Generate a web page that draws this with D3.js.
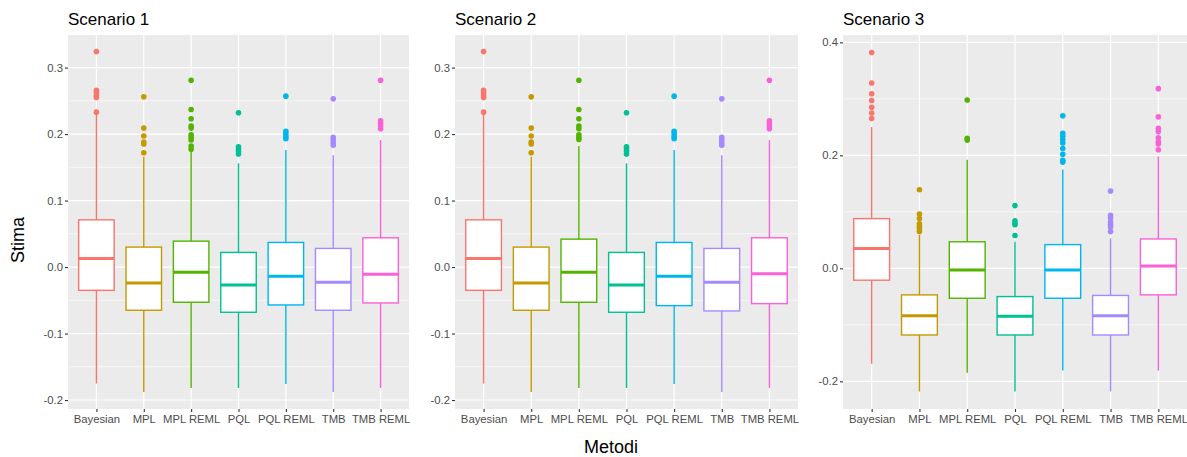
<!DOCTYPE html>
<html>
<head>
<meta charset="utf-8">
<script src="https://cdn.jsdelivr.net/npm/d3@7"></script>
<style>
  body { margin: 0; background: #fff; }
  svg { display: block; font-family: "Liberation Sans", Arial, sans-serif; }
</style>
</head>
<body>
<svg id="chart" width="1187" height="457"></svg>
<script>
// Methods compared and their colours (default ggplot hue palette)
const methods = ["Bayesian", "MPL", "MPL REML", "PQL", "PQL REML", "TMB", "TMB REML"];
const methodColors = ["#F8766D", "#C49A00", "#53B400", "#00C094", "#00B6EB", "#A58AFF", "#FB61D7"];
const scenarioTitles = ["Scenario 1", "Scenario 2", "Scenario 3"];

// Scenario 1 box statistics
const s1Lower  = [-0.175, -0.188, -0.182, -0.182, -0.176, -0.188, -0.182];
const s1Q1     = [-0.035, -0.065, -0.053, -0.068, -0.057, -0.065, -0.054];
const s1Median = [0.013, -0.024, -0.008, -0.027, -0.014, -0.023, -0.011];
const s1Q3     = [0.071, 0.030, 0.039, 0.022, 0.037, 0.028, 0.044];
const s1Upper  = [0.229, 0.166, 0.173, 0.156, 0.176, 0.168, 0.191];
const s1Outliers = [
  [0.324, 0.266, 0.262, 0.258, 0.255, 0.233],
  [0.256, 0.209, 0.197, 0.188, 0.185, 0.172],
  [0.281, 0.237, 0.223, 0.212, 0.209, 0.199, 0.195, 0.191, 0.182, 0.177],
  [0.232, 0.181, 0.178, 0.174, 0.170],
  [0.257, 0.204, 0.200, 0.196, 0.193],
  [0.253, 0.195, 0.191, 0.187, 0.183],
  [0.281, 0.220, 0.216, 0.212, 0.208]
];

// Scenario 2 box statistics
const s2Lower  = [-0.175, -0.188, -0.182, -0.182, -0.176, -0.188, -0.182];
const s2Q1     = [-0.035, -0.065, -0.053, -0.068, -0.058, -0.066, -0.055];
const s2Median = [0.013, -0.024, -0.008, -0.027, -0.014, -0.023, -0.010];
const s2Q3     = [0.071, 0.030, 0.042, 0.022, 0.037, 0.028, 0.044];
const s2Upper  = [0.229, 0.166, 0.182, 0.156, 0.176, 0.168, 0.191];
const s2Outliers = [
  [0.324, 0.266, 0.262, 0.258, 0.255, 0.233],
  [0.256, 0.209, 0.197, 0.188, 0.185, 0.172],
  [0.281, 0.237, 0.223, 0.212, 0.208, 0.199, 0.195, 0.192],
  [0.232, 0.181, 0.178, 0.174, 0.170],
  [0.257, 0.204, 0.200, 0.196, 0.193],
  [0.253, 0.195, 0.191, 0.187, 0.183],
  [0.281, 0.220, 0.216, 0.212, 0.208]
];

// Scenario 3 box statistics
const s3Lower  = [-0.169, -0.218, -0.185, -0.218, -0.181, -0.218, -0.181];
const s3Q1     = [-0.021, -0.118, -0.053, -0.118, -0.053, -0.118, -0.047];
const s3Median = [0.035, -0.084, -0.003, -0.085, -0.003, -0.084, 0.004];
const s3Q3     = [0.088, -0.047, 0.047, -0.050, 0.042, -0.048, 0.052];
const s3Upper  = [0.250, 0.059, 0.192, 0.047, 0.175, 0.053, 0.198];
const s3Outliers = [
  [0.382, 0.328, 0.309, 0.297, 0.285, 0.275, 0.265],
  [0.139, 0.096, 0.088, 0.079, 0.075, 0.071, 0.065],
  [0.298, 0.230, 0.227],
  [0.111, 0.084, 0.080, 0.077, 0.058],
  [0.270, 0.239, 0.234, 0.228, 0.222, 0.212, 0.202, 0.191, 0.188],
  [0.137, 0.094, 0.089, 0.082, 0.077, 0.073, 0.065],
  [0.318, 0.268, 0.248, 0.242, 0.231, 0.224, 0.220, 0.210]
];

// Axis ticks per panel
const ticksS12 = [-0.2, -0.1, 0.0, 0.1, 0.2, 0.3];
const minorS12 = [-0.15, -0.05, 0.05, 0.15, 0.25];
const ticksS3 = [-0.2, 0.0, 0.2, 0.4];
const minorS3 = [-0.1, 0.1, 0.3];

const panels = [
  { title: scenarioTitles[0], x0: 68, x1: 409, domain: [-0.2135, 0.349], ticks: ticksS12, minor: minorS12,
    lower: s1Lower, q1: s1Q1, med: s1Median, q3: s1Q3, upper: s1Upper, out: s1Outliers },
  { title: scenarioTitles[1], x0: 455, x1: 798, domain: [-0.2135, 0.349], ticks: ticksS12, minor: minorS12,
    lower: s2Lower, q1: s2Q1, med: s2Median, q3: s2Q3, upper: s2Upper, out: s2Outliers },
  { title: scenarioTitles[2], x0: 843, x1: 1187, domain: [-0.249, 0.413], ticks: ticksS3, minor: minorS3,
    lower: s3Lower, q1: s3Q1, med: s3Median, q3: s3Q3, upper: s3Upper, out: s3Outliers }
];

const svg = d3.select("#chart");
const plotTop = 35, plotBottom = 409;
// plain hyphen-minus for negative tick labels
const fmt = d => d3.format(".1f")(d).replace("\u2212", "-");

panels.forEach(p => {
  const x = d3.scalePoint().domain(methods).range([p.x0, p.x1]).padding(0.6);
  const y = d3.scaleLinear().domain(p.domain).range([plotBottom, plotTop]);
  const step = x.step();
  const boxW = step * 0.75;
  const g = svg.append("g");

  // panel background and grid
  g.append("rect").attr("x", p.x0).attr("y", plotTop)
    .attr("width", p.x1 - p.x0).attr("height", plotBottom - plotTop).attr("fill", "#EBEBEB");
  g.selectAll(".minor").data(p.minor).join("line")
    .attr("x1", p.x0).attr("x2", p.x1).attr("y1", d => y(d)).attr("y2", d => y(d))
    .attr("stroke", "#fff").attr("stroke-width", 0.6);
  g.selectAll(".major").data(p.ticks).join("line")
    .attr("x1", p.x0).attr("x2", p.x1).attr("y1", d => y(d)).attr("y2", d => y(d))
    .attr("stroke", "#fff").attr("stroke-width", 1.2);
  g.selectAll(".vmajor").data(methods).join("line")
    .attr("x1", d => x(d)).attr("x2", d => x(d)).attr("y1", plotTop).attr("y2", plotBottom)
    .attr("stroke", "#fff").attr("stroke-width", 1.2);

  // axes
  const yAxis = d3.axisLeft(y).tickValues(p.ticks).tickFormat(fmt).tickSize(3).tickPadding(2);
  const ya = g.append("g").attr("transform", `translate(${p.x0},0)`).call(yAxis);
  const xAxis = d3.axisBottom(x).tickSize(3).tickPadding(3);
  const xa = g.append("g").attr("transform", `translate(0,${plotBottom})`).call(xAxis);
  [ya, xa].forEach(a => {
    a.select(".domain").remove();
    a.selectAll(".tick line").attr("stroke", "#333").attr("stroke-width", 1.1);
    a.selectAll(".tick text").attr("fill", "#4D4D4D").style("font-size", "11.3px")
      .style("font-family", "'Liberation Sans', Arial, sans-serif");
  });

  // boxplots
  methods.forEach((m, i) => {
    const cx = x(m), col = methodColors[i];
    const b = g.append("g");
    b.append("line").attr("x1", cx).attr("x2", cx)
      .attr("y1", y(p.upper[i])).attr("y2", y(p.lower[i]))
      .attr("stroke", col).attr("stroke-width", 1.4);
    b.append("rect").attr("x", cx - boxW / 2).attr("width", boxW)
      .attr("y", y(p.q3[i])).attr("height", y(p.q1[i]) - y(p.q3[i]))
      .attr("fill", "#fff").attr("stroke", col).attr("stroke-width", 1.4);
    b.append("line").attr("x1", cx - boxW / 2).attr("x2", cx + boxW / 2)
      .attr("y1", y(p.med[i])).attr("y2", y(p.med[i]))
      .attr("stroke", col).attr("stroke-width", 3);
    b.selectAll("circle").data(p.out[i]).join("circle")
      .attr("cx", cx).attr("cy", d => y(d)).attr("r", 2.8).attr("fill", col);
  });

  // panel title
  svg.append("text").attr("x", p.x0).attr("y", 25).text(p.title)
    .attr("fill", "#000").style("font-size", "17px");
});

// shared axis titles
svg.append("text").attr("transform", "translate(24,240) rotate(-90)")
  .attr("text-anchor", "middle").style("font-size", "18px").text("Stima");
svg.append("text").attr("x", 611).attr("y", 453)
  .attr("text-anchor", "middle").style("font-size", "18px").text("Metodi");
</script>
</body>
</html>
